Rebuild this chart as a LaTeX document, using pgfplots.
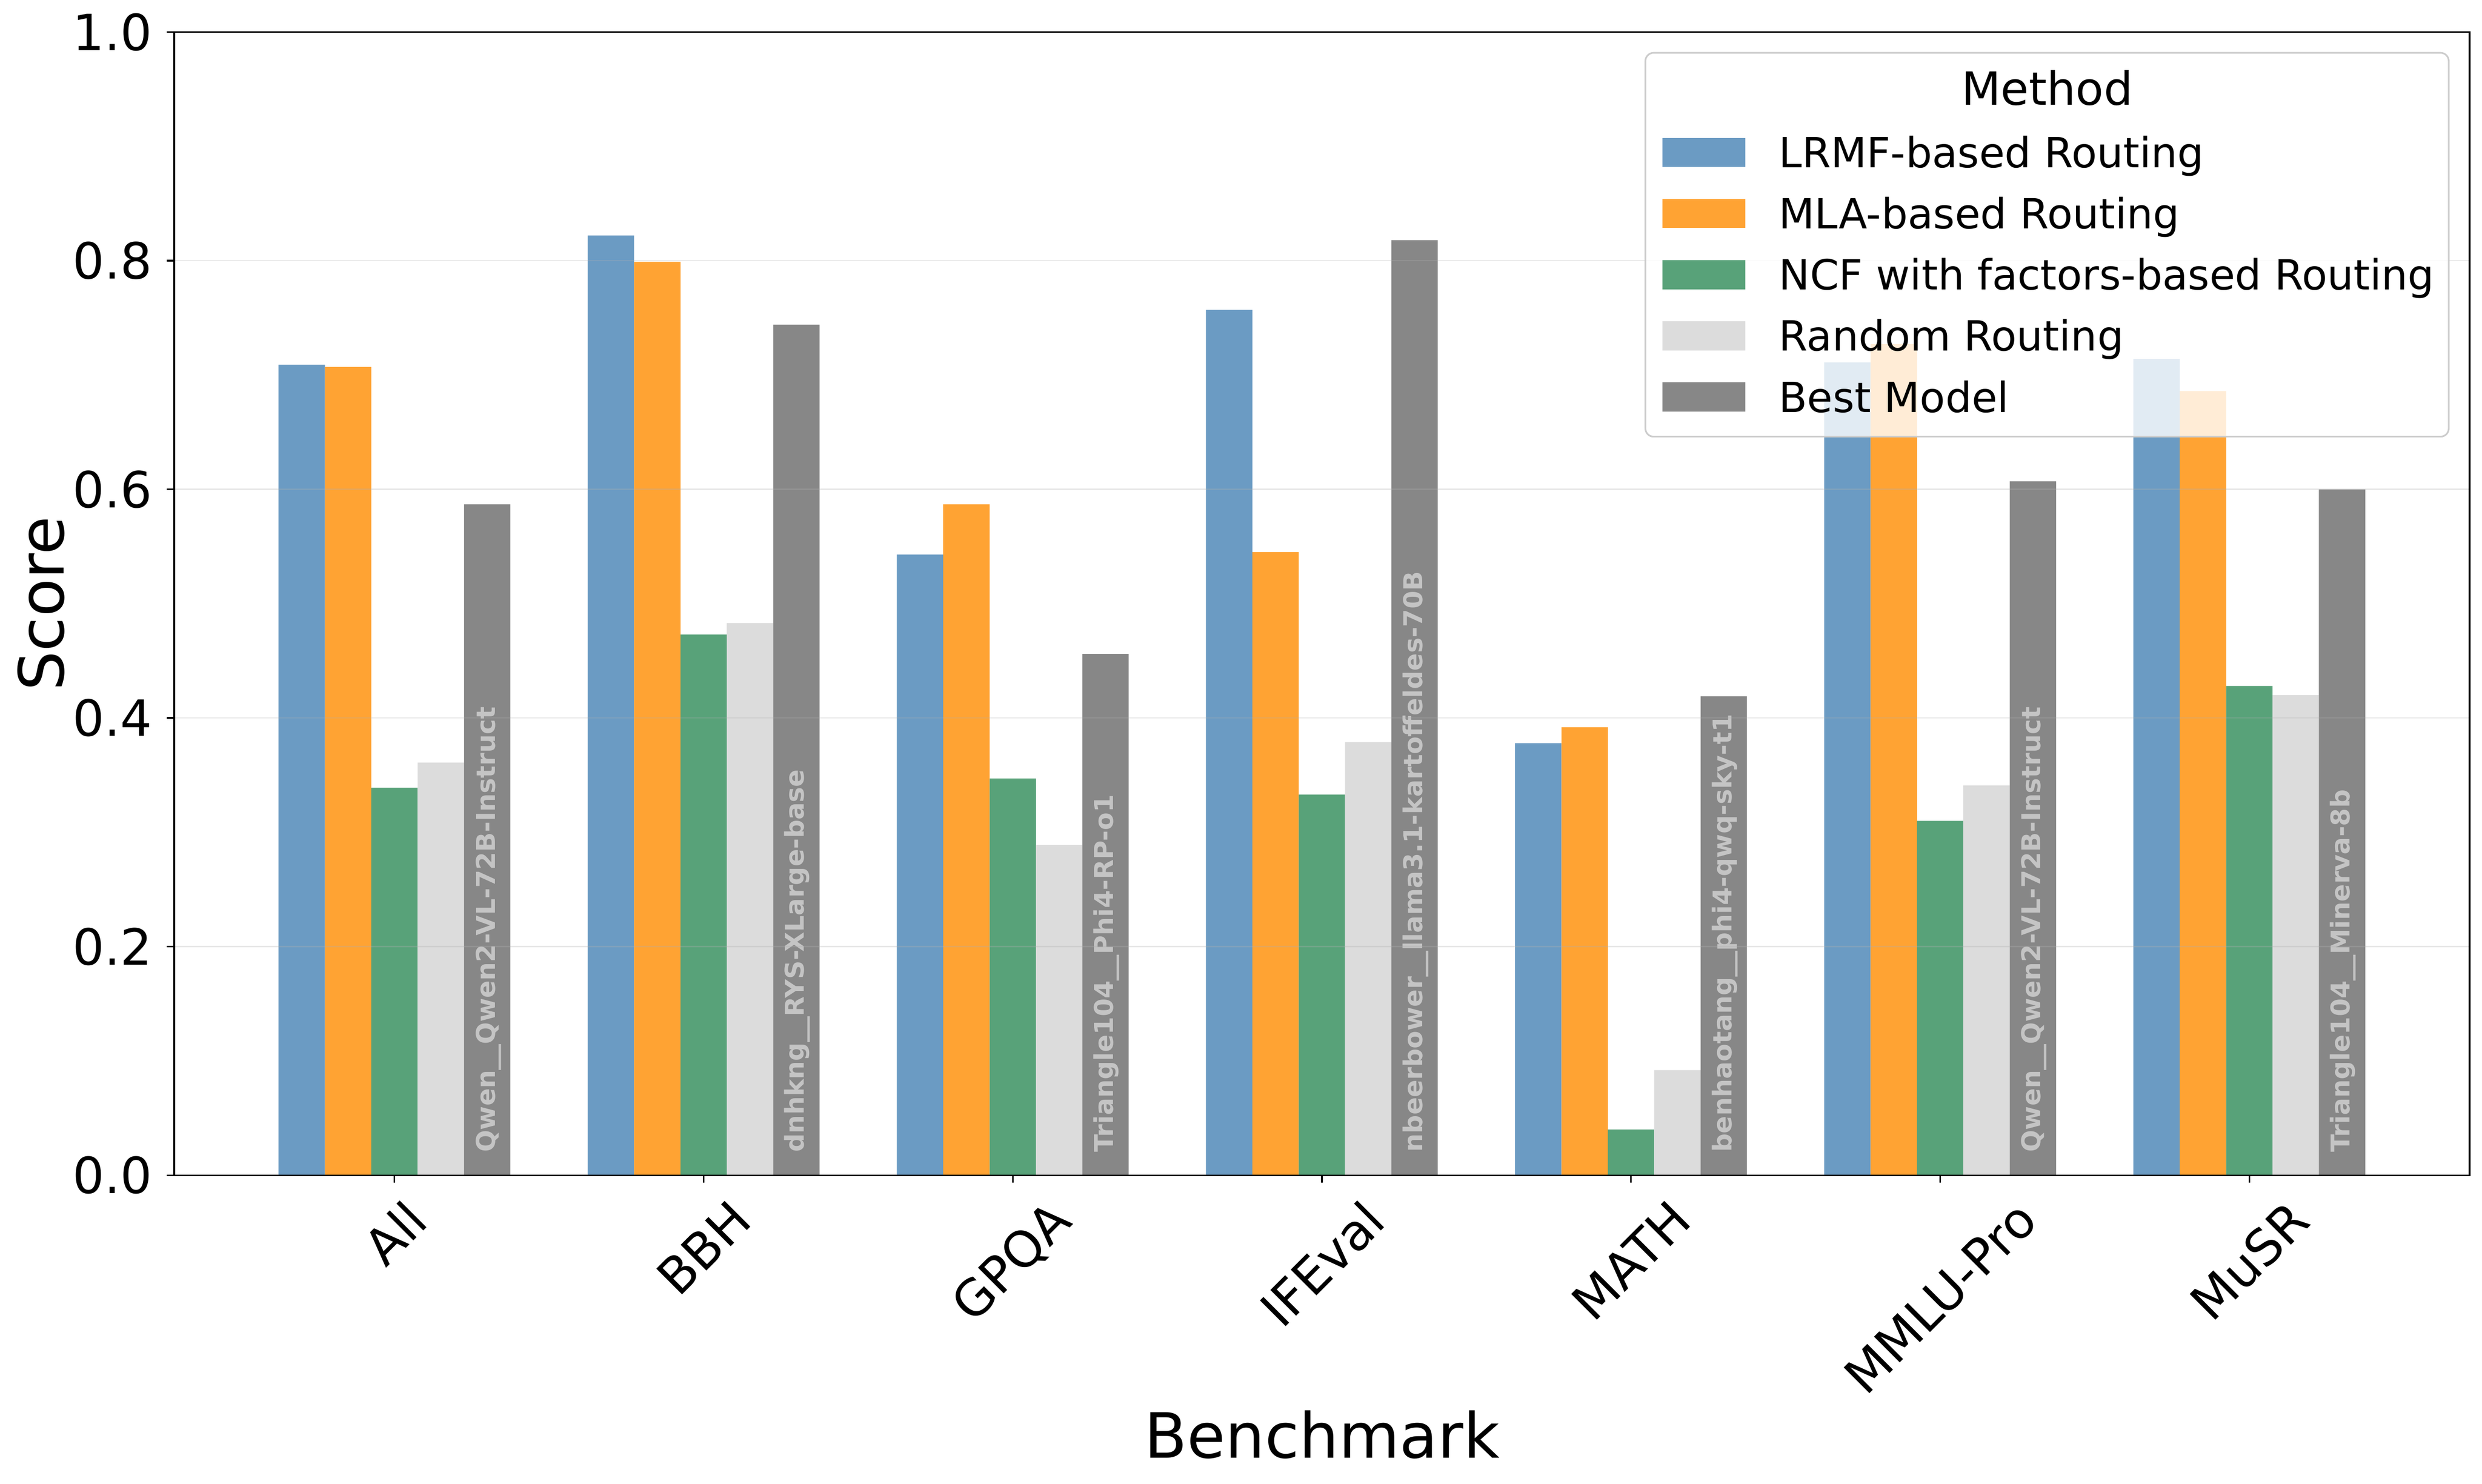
\documentclass[border=0pt]{standalone}
\usepackage{fontspec}
\setmainfont{DejaVu Sans}
\usepackage{pgfplots}
\pgfplotsset{compat=1.18}
\definecolor{cA}{HTML}{6B9BC3}
\definecolor{cB}{HTML}{FFA333}
\definecolor{cC}{HTML}{58A279}
\definecolor{cD}{HTML}{DCDCDC}
\definecolor{cE}{HTML}{878787}
\definecolor{lblgray}{HTML}{C4C4C4}
\definecolor{gridc}{HTML}{B0B0B0}
\definecolor{legframe}{HTML}{CCCCCC}
\pgfplotsset{
  mybar/.style={ybar, bar width=0.15, draw=none,
    legend image code/.code={\fill[##1] (0pt,-7pt) rectangle (40pt,7pt);}},
}
\tikzset{
  lbl/.style={rotate=90, anchor=west, inner sep=0pt, text height=9.3pt, text depth=1.9pt,
    font=\bfseries\fontsize{12.45}{14}\selectfont, text=lblgray},
}
\begin{document}
\begin{tikzpicture}
\begin{axis}[
  name=ax,
  set layers=axis on top, axis on top,
  scale only axis, width=1104pt, height=549.8pt,
  xmin=-0.7125, xmax=6.7125, ymin=0, ymax=1,
  xtick={0,1,2,3,4,5,6},
  xticklabels={\rotatebox{45}{All},\rotatebox{45}{BBH},\rotatebox{45}{GPQA},\rotatebox{45}{IFEval},\rotatebox{45}{MATH},\rotatebox{45}{MMLU-Pro},\rotatebox{45}{MuSR}},
  ytick={0,0.2,0.4,0.6,0.8,1},
  tick label style={font=\fontsize{24}{28}\selectfont},
  xticklabel style={anchor=north, inner sep=0pt, yshift=-7pt},
  yticklabel style={anchor=east, inner sep=0pt, xshift=-7pt},
  yticklabel style={/pgf/number format/.cd, fixed, fixed zerofill, precision=1, assume math mode=true},
  tick align=outside, xtick pos=bottom, ytick pos=left,
  major tick length=3.5pt,
  tick style={black, line width=0.8pt},
  axis line style={black, line width=0.8pt},
  ymajorgrids, major grid style={gridc, opacity=0.3, line width=0.6pt},
  xlabel={Benchmark}, ylabel={Score},
  label style={font=\fontsize{30}{36}\selectfont},
  xlabel style={at={(axis description cs:0.5,-0.24736)}, anchor=base},
  ylabel style={at={(axis description cs:-0.048188,0.5)}, anchor=base},
  legend cell align=left,
  legend style={at={([xshift=-388.4pt,yshift=-47pt]axis description cs:1,1)}, anchor=north west,
    draw=none, fill=none, inner sep=0pt, row sep=8pt, column sep=16pt,
    font=\fontsize{20}{24}\selectfont,
    nodes={inner sep=0pt, text height=18pt, text depth=3.4pt},
    cells={anchor=west}},
]
\addplot[mybar, bar shift=-0.3, fill=cA] coordinates {(0,0.709) (1,0.822) (2,0.543) (3,0.757) (4,0.378) (5,0.711) (6,0.714)};
\addlegendentry{LRMF-based Routing}
\addplot[mybar, bar shift=-0.15, fill=cB] coordinates {(0,0.707) (1,0.799) (2,0.587) (3,0.545) (4,0.392) (5,0.727) (6,0.686)};
\addlegendentry{MLA-based Routing}
\addplot[mybar, bar shift=0, fill=cC] coordinates {(0,0.339) (1,0.473) (2,0.347) (3,0.333) (4,0.040) (5,0.310) (6,0.428)};
\addlegendentry{NCF with factors-based Routing}
\addplot[mybar, bar shift=0.15, fill=cD] coordinates {(0,0.361) (1,0.483) (2,0.289) (3,0.379) (4,0.092) (5,0.341) (6,0.420)};
\addlegendentry{Random Routing}
\addplot[mybar, bar shift=0.3, fill=cE] coordinates {(0,0.587) (1,0.744) (2,0.456) (3,0.818) (4,0.419) (5,0.607) (6,0.600)};
\addlegendentry{Best Model}
\node[lbl] at (axis cs:0.3,0.02) {Qwen\_\_Qwen2-VL-72B-Instruct};
\node[lbl] at (axis cs:1.3,0.02) {dnhkng\_\_RYS-XLarge-base};
\node[lbl] at (axis cs:2.3,0.02) {Triangle104\_\_Phi4-RP-o1};
\node[lbl] at (axis cs:3.3,0.02) {nbeerbower\_\_llama3.1-kartoffeldes-70B};
\node[lbl] at (axis cs:4.3,0.02) {benhaotang\_\_phi4-qwq-sky-t1};
\node[lbl] at (axis cs:5.3,0.02) {Qwen\_\_Qwen2-VL-72B-Instruct};
\node[lbl] at (axis cs:6.3,0.02) {Triangle104\_\_Minerva-8b};
\begin{pgfonlayer}{axis tick labels}
\fill[white, opacity=0.8, rounded corners=4pt] ([xshift=-396.4pt,yshift=-10pt]rel axis cs:1,1) rectangle ([xshift=-10pt,yshift=-194.6pt]rel axis cs:1,1);
\draw[legframe, line width=0.8pt, rounded corners=4pt] ([xshift=-396.4pt,yshift=-10pt]rel axis cs:1,1) rectangle ([xshift=-10pt,yshift=-194.6pt]rel axis cs:1,1);
\node[anchor=base, inner sep=0pt, font=\fontsize{22}{26}\selectfont] at ([xshift=-203.2pt,yshift=-35pt]rel axis cs:1,1) {Method};
\end{pgfonlayer}
\end{axis}
\pgfresetboundingbox
\path[use as bounding box] ([xshift=-83.8pt,yshift=-148.4pt]ax.south west) rectangle ([xshift=6pt,yshift=15.4pt]ax.north east);
\end{tikzpicture}
\end{document}
